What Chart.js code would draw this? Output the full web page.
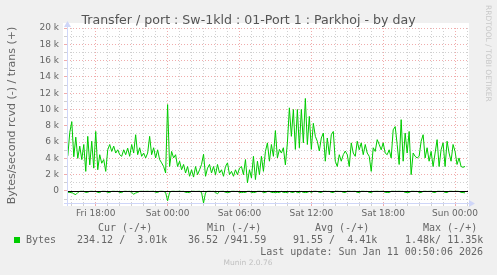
<!DOCTYPE html>
<html>
<head>
<meta charset="utf-8">
<script src="https://cdn.jsdelivr.net/npm/chart.js@4.4.1/dist/chart.umd.min.js"></script>
<style>
  html, body { margin: 0; padding: 0; background: #f0f0f0; }
  #wrap { width: 497px; height: 275px; }
</style>
</head>
<body>
<div id="wrap"><canvas id="trafficChart" width="497" height="275"></canvas></div>
<script>
// samples every 10 minutes, x = hours since Fri 00:00
const startHour = 15 + 40 / 60;
const stepHours = 10 / 60;

// trans (+), bytes/second
const transValues = [
  4300, 7200, 8500, 4200, 6600, 4000, 5500, 3850, 5700, 2400, 6700, 3200, 6100, 2800, 7300, 2600, 4450, 3400,
  3850, 2400, 5050, 5700, 4850, 5500, 4650, 5050, 4450, 4250, 5050, 4450, 5250, 4250, 5700, 4650, 6900,
  4450, 5300, 4250, 4650, 4050, 4650, 6700, 4450, 5300, 4050, 5050, 3850, 3450, 3000, 2200, 10600, 3000, 4850,
  4050, 4450, 3000, 3650, 2600, 3250, 2200, 3000, 1800, 2600, 1700, 3000, 2000, 2600, 3250, 4500, 1800,
  2800, 3250, 2200, 3000, 2000, 3250, 2200, 2600, 1800, 3000, 3450, 2000, 2400, 1800, 2600, 2000, 2800, 3000,
  2000, 3850, 1000, 2600, 1600, 4250, 1400, 3650, 2000, 4250, 2400, 4850, 5900, 3650, 5700, 4250, 7400,
  4050, 5100, 4650, 5300, 3200, 5900, 10200, 6700, 10000, 5100, 10000, 5300, 10000, 5900, 11350, 5700, 9150,
  5100, 8300, 6700, 6100, 4900, 6500, 7100, 3650, 6500, 4450, 6900, 7300, 3650, 3000, 4450, 3650, 4450, 4900,
  4450, 3000, 5900, 4650, 4250, 6100, 5050, 5900, 4450, 5700, 4650, 4250, 2400, 5300, 4850, 6300, 5700, 5050,
  5900, 4650, 4450, 5050, 4050, 7500, 7900, 5700, 3250, 8750, 3650, 7100, 4650, 7300, 2000, 4650, 4250,
  4050, 4250, 6100, 6900, 4050, 5300, 3650, 4850, 3000, 4650, 6300, 3000, 5050, 5900, 3000, 6100, 4650, 3650,
  5700, 4850, 3250, 4050, 3000, 2900, 3010
];

// rcvd (-), bytes/second, drawn below zero
const rcvdValues = [
  -150, -200, -180, -350, -450, -200, -50, -40, -60, -180, -160, -50, -40, -60, -50, -180, -200, -50,
  -40, -60, -170, -190, -50, -40, -60, -50, -180, -200, -50, -40, -60, -50, -180, -400, -250,
  -180, -50, -40, -60, -50, -40, -60, -50, -40, -160, -190, -50, -40, -60, -200, -1200, -180, -50,
  -40, -60, -50, -40, -60, -50, -170, -190, -200, -50, -40, -60, -50, -40, -180, -1480, -200,
  -50, -40, -60, -50, -180, -350, -60, -50, -40, -170, -190, -180, -50, -40, -60, -50, -180, -200,
  -170, -190, -50, -40, -180, -200, -170, -50, -40, -60, -190, -200, -50, -40, -180, -200, -190,
  -180, -200, -50, -190, -180, -200, -60, -180, -190, -50, -200, -180, -60, -190, -200, -180, -50,
  -190, -50, -40, -60, -170, -190, -50, -40, -60, -50, -180, -200, -50, -40, -60, -50, -180, -190,
  -50, -40, -60, -50, -40, -180, -200, -50, -40, -60, -50, -180, -200, -60, -50, -40, -60, -50,
  -40, -170, -190, -200, -50, -40, -60, -50, -40, -60, -50, -180, -200, -190, -50, -40, -60,
  -50, -180, -200, -50, -40, -60, -50, -40, -170, -190, -50, -40, -60, -50, -180, -200, -50, -40,
  -60, -50, -40, -60, -180, -200, -234
];

const timeTicks = [18, 24, 30, 36, 42, 48];
const timeLabels = ["Fri 18:00", "Sat 00:00", "Sat 06:00", "Sat 12:00", "Sat 18:00", "Sun 00:00"];
const xRange = [15.6, 49.08];
const yRange = [-1480, 20000];

const legendHeaders = ["Cur (-/+)", "Min (-/+)", "Avg (-/+)", "Max (-/+)"];
const legendValues = ["234.12 /  3.01k", "36.52 /941.59", "91.55 /  4.41k", "1.48k/ 11.35k"];
const seriesName = "Bytes";
const lastUpdate = "Last update: Sun Jan 11 00:50:06 2026";

const green = "#00cc00";
const axisColor = "#cfd6f8";
const minorGrid = "rgba(150,150,150,0.45)";
const majorGrid = "rgba(225,90,90,0.5)";
const fontColor = "#666666";

Chart.defaults.font.family = "'DejaVu Sans'";
Chart.defaults.color = fontColor;

const toPoints = (values) => values.map((v, i) => ({ x: startHour + i * stepHours, y: v }));

const muninFrame = {
    id: "muninFrame",
    beforeDraw(chart) {
        const { ctx, chartArea: a } = chart;
        ctx.save();
        ctx.fillStyle = "#f0f0f0";
        ctx.fillRect(0, 0, chart.width, chart.height);
        ctx.fillStyle = "#ffffff";
        ctx.fillRect(a.left - 4, a.top - 5, a.right - a.left + 5, a.bottom - a.top + 8);
        ctx.restore();
    },
    afterDatasetsDraw(chart) {
        const { ctx, chartArea: a, scales } = chart;
        const y0 = Math.round(scales.y.getPixelForValue(0)) + 0.5;
        ctx.save();
        ctx.strokeStyle = "#000000";
        ctx.lineWidth = 1;
        ctx.beginPath();
        ctx.moveTo(a.left, y0);
        ctx.lineTo(a.right, y0);
        ctx.stroke();

        // axes with arrows
        const xl = a.left + 0.5;
        const yb = a.bottom + 0.5;
        ctx.strokeStyle = axisColor;
        ctx.fillStyle = axisColor;
        ctx.beginPath();
        ctx.moveTo(xl, a.bottom + 3);
        ctx.lineTo(xl, a.top - 1);
        ctx.moveTo(a.left - 3, yb);
        ctx.lineTo(a.right + 1, yb);
        ctx.stroke();
        ctx.beginPath();
        ctx.moveTo(xl - 3.5, a.top - 1);
        ctx.lineTo(xl + 3.5, a.top - 1);
        ctx.lineTo(xl, a.top - 7);
        ctx.closePath();
        ctx.fill();
        ctx.beginPath();
        ctx.moveTo(a.right + 1, yb - 3.5);
        ctx.lineTo(a.right + 1, yb + 3.5);
        ctx.lineTo(a.right + 7, yb);
        ctx.closePath();
        ctx.fill();
        ctx.restore();
    },
    afterDraw(chart) {
        const { ctx } = chart;
        ctx.save();
        ctx.fillStyle = "#555555";
        ctx.font = "12.6px 'DejaVu Sans'";
        ctx.textAlign = "center";
        ctx.textBaseline = "alphabetic";
        ctx.fillText("Transfer / port : Sw-1kld : 01-Port 1 : Parkhoj - by day", 248.5, 24);

        ctx.fillStyle = "#c8c8c8";
        ctx.font = "7.5px 'DejaVu Sans'";
        ctx.translate(488, 5);
        ctx.rotate(Math.PI / 2);
        ctx.textAlign = "left";
        ctx.textBaseline = "middle";
        ctx.fillText("RRDTOOL / TOBI OETIKER", 0, 0);
        ctx.setTransform(1, 0, 0, 1, 0, 0);

        ctx.font = "10px 'DejaVu Sans Mono'";
        ctx.fillStyle = fontColor;
        ctx.textAlign = "left";
        ctx.textBaseline = "middle";
        const headerX = [98, 207, 315, 423];
        const valueX = [77, 188, 293, 405];
        legendHeaders.forEach((h, i) => ctx.fillText(h, headerX[i], 228));
        legendValues.forEach((v, i) => ctx.fillText(v, valueX[i], 240));
        ctx.fillText(seriesName, 26, 240);
        ctx.textAlign = "right";
        ctx.fillText(lastUpdate, 483, 252);
        ctx.fillStyle = green;
        ctx.fillRect(14, 237, 6, 6);

        ctx.fillStyle = "#c0c0c0";
        ctx.font = "7.5px 'DejaVu Sans'";
        ctx.textAlign = "center";
        ctx.fillText("Munin 2.0.76", 248, 263);
        ctx.restore();
    },
};

new Chart(document.getElementById("trafficChart"), {
    type: "line",
    data: {
        datasets: [
            { label: "rcvd", data: toPoints(rcvdValues), borderColor: green, borderWidth: 1, pointRadius: 0, tension: 0, fill: false },
            { label: "trans", data: toPoints(transValues), borderColor: green, borderWidth: 1, pointRadius: 0, tension: 0, fill: false },
        ],
    },
    options: {
        responsive: false,
        devicePixelRatio: 1,
        animation: false,
        layout: { padding: { top: 28, right: 29, left: 0, bottom: 0 } },
        plugins: { legend: { display: false }, tooltip: { enabled: false } },
        scales: {
            x: {
                type: "linear",
                min: xRange[0],
                max: xRange[1],
                afterFit: (scale) => { scale.height = 72; },
                afterBuildTicks: (scale) => {
                    const ticks = [];
                    for (let h = Math.ceil(xRange[0]); h <= xRange[1]; h++) ticks.push({ value: h });
                    scale.ticks = ticks;
                },
                ticks: {
                    autoSkip: false,
                    maxRotation: 0,
                    padding: 2,
                    font: { size: 9 },
                    color: fontColor,
                    callback: (value) => {
                        const idx = timeTicks.indexOf(value);
                        return idx >= 0 ? timeLabels[idx] : "";
                    },
                },
                grid: {
                    color: (ctx) => (timeTicks.includes(ctx.tick && ctx.tick.value) ? majorGrid : minorGrid),
                    tickColor: (ctx) => (timeTicks.includes(ctx.tick && ctx.tick.value) ? majorGrid : minorGrid),
                    tickLength: 3,
                    lineWidth: 1,
                },
                border: { display: false, dash: [1, 2] },
            },
            y: {
                min: yRange[0],
                max: yRange[1],
                afterFit: (scale) => { scale.width = 67; },
                afterBuildTicks: (scale) => {
                    const ticks = [];
                    for (let v = -1000; v <= yRange[1]; v += 1000) ticks.push({ value: v });
                    scale.ticks = ticks;
                },
                ticks: {
                    autoSkip: false,
                    padding: 5,
                    font: { size: 9 },
                    color: fontColor,
                    callback: (value) => {
                        if (value < 0 || value % 2000 !== 0) return "";
                        return value === 0 ? "0" : value / 1000 + " k";
                    },
                },
                grid: {
                    color: (ctx) => {
                        const v = ctx.tick ? ctx.tick.value : 1;
                        if (v === 0) return "rgba(0,0,0,0)";
                        return v % 2000 === 0 ? majorGrid : minorGrid;
                    },
                    tickColor: (ctx) => {
                        const v = ctx.tick ? ctx.tick.value : 1;
                        return v % 2000 === 0 ? majorGrid : minorGrid;
                    },
                    tickLength: 3,
                    lineWidth: 1,
                },
                border: { display: false, dash: [1, 2] },
                title: {
                    display: true,
                    text: "Bytes/second rcvd (-) / trans (+)",
                    font: { size: 11 },
                    color: fontColor,
                    padding: { top: 6, bottom: 0 },
                },
            },
        },
    },
    plugins: [muninFrame],
});
</script>
</body>
</html>
